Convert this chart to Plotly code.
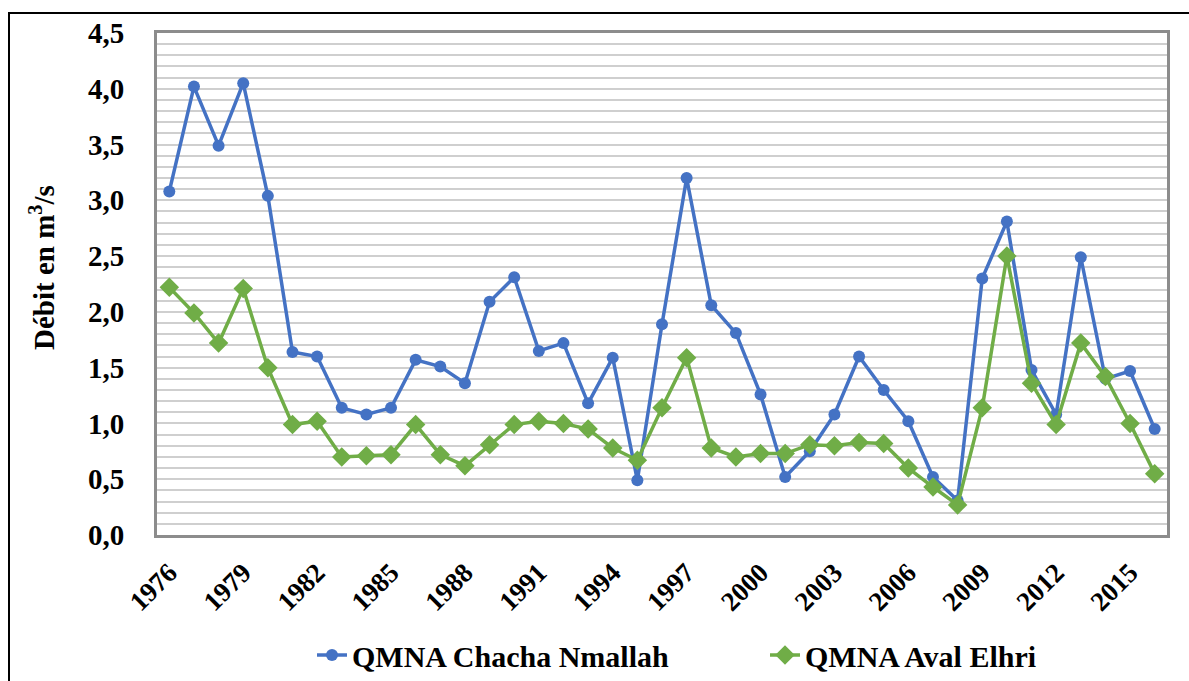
import plotly.graph_objects as go

# Annual low-flow discharge (QMNA), m3/s
years = list(range(1976, 2017))
chacha_nmallah = [3.08, 4.02, 3.49, 4.05, 3.04, 1.64, 1.60, 1.14, 1.08, 1.14,
                  1.57, 1.51, 1.36, 2.09, 2.31, 1.65, 1.72, 1.18, 1.59, 0.49,
                  1.89, 3.20, 2.06, 1.81, 1.26, 0.52, 0.75, 1.08, 1.60, 1.30,
                  1.02, 0.52, 0.31, 2.30, 2.81, 1.48, 1.08, 2.49, 1.40, 1.47,
                  0.95]
aval_elhri = [2.22, 1.99, 1.72, 2.21, 1.50, 0.99, 1.02, 0.70, 0.71, 0.72,
              0.99, 0.72, 0.62, 0.81, 0.99, 1.02, 1.00, 0.95, 0.78, 0.67,
              1.14, 1.59, 0.78, 0.70, 0.73, 0.73, 0.81, 0.80, 0.83, 0.82,
              0.60, 0.43, 0.27, 1.14, 2.50, 1.36, 0.99, 1.72, 1.42, 1.00,
              0.55]
tick_years = list(range(1976, 2016, 3))

BLUE = "#4472C4"
GREEN = "#70AD47"
FONT = "Liberation Serif, Times New Roman, serif"

fig = go.Figure()
fig.add_trace(go.Scatter(
    x=years, y=chacha_nmallah, mode="lines+markers", name="QMNA Chacha Nmallah",
    line=dict(color=BLUE, width=3.5),
    marker=dict(symbol="circle", size=12, color=BLUE),
    legend="legend",
))
fig.add_trace(go.Scatter(
    x=years, y=aval_elhri, mode="lines+markers", name="QMNA Aval Elhri",
    line=dict(color=GREEN, width=3.5),
    marker=dict(symbol="diamond", size=15, color=GREEN),
    legend="legend2",
))

L, R, T, B = 157, 22, 33, 146
W, H = 1189, 681
pw, ph = W - L - R, H - T - B

def px_x(x):
    return (x - L) / pw

def px_y(y):
    return (H - B - y) / ph

legend_font = dict(family=FONT, size=30, color="black", weight="bold")

fig.update_layout(
    width=W, height=H,
    margin=dict(l=L, r=R, t=T, b=B, pad=0, autoexpand=False),
    paper_bgcolor="white", plot_bgcolor="white",
    separators=", ",
    font=dict(family=FONT, color="black"),
    showlegend=True,
    legend=dict(
        orientation="h", x=px_x(312), xanchor="left", y=px_y(655), yanchor="middle",
        font=legend_font, bgcolor="rgba(0,0,0,0)",
    ),
    legend2=dict(
        orientation="h", x=px_x(765), xanchor="left", y=px_y(655), yanchor="middle",
        font=legend_font, bgcolor="rgba(0,0,0,0)",
    ),
    xaxis=dict(
        range=[1975.5, 2016.5], tickmode="array", tickvals=tick_years,
        ticktext=[str(y) for y in tick_years], tickangle=-45,
        tickfont=dict(family=FONT, size=27, color="black", weight="bold"),
        ticklabelstandoff=8,
        showgrid=False, zeroline=False, ticks="",
        showline=True, linecolor="#8c8c8c", linewidth=3, mirror=True,
    ),
    yaxis=dict(
        range=[0, 4.5], dtick=0.5, tick0=0, tickformat=".1f",
        tickfont=dict(family=FONT, size=29, color="black", weight="bold"),
        ticklabelstandoff=24,
        showgrid=True, gridcolor="#cfcfcf", gridwidth=2, zeroline=False,
        ticks="",
        minor=dict(dtick=0.1, showgrid=True, gridcolor="#cfcfcf", gridwidth=2),
        showline=True, linecolor="#8c8c8c", linewidth=3, mirror=True,
    ),
    annotations=[dict(
        text="Débit en m<sup>3</sup>/s", textangle=-90,
        xref="paper", yref="paper", x=px_x(42), y=px_y(268),
        xanchor="center", yanchor="middle", showarrow=False,
        font=dict(family=FONT, size=29, color="black", weight="bold"),
    )],
    shapes=[dict(
        type="rect", xref="paper", yref="paper",
        x0=px_x(9), y0=px_y(700), x1=px_x(1200), y1=px_y(13),
        line=dict(color="black", width=2), fillcolor="rgba(0,0,0,0)",
        layer="below",
    )],
)

fig.write_html("out.html")
